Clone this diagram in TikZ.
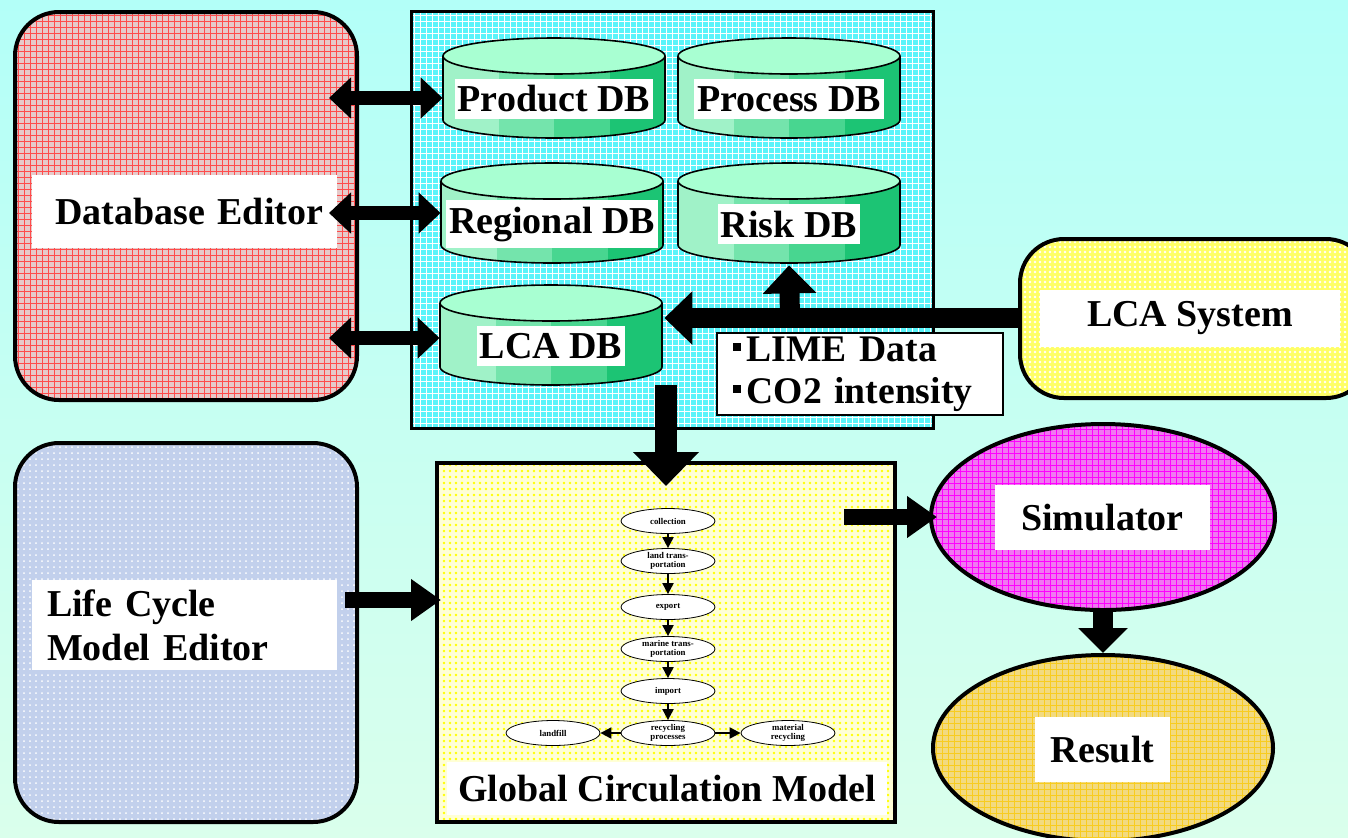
\documentclass[tikz,border=0pt]{standalone}
\usepackage{fontspec}
\setmainfont{Liberation Serif}
\usetikzlibrary{arrows.meta,shapes.geometric,patterns,patterns.meta}

\definecolor{bgtop}{HTML}{B3FFF8}
\definecolor{bgbot}{HTML}{DAFFEC}
\definecolor{edred}{HTML}{E6CACA}
\definecolor{dbcyan}{HTML}{5AF4FA}
\definecolor{lcblue}{HTML}{C2D0EC}
\definecolor{lcyel}{HTML}{FFFF66}
\definecolor{gcmyel}{HTML}{FFFFD6}
\definecolor{simmag}{HTML}{F078F0}
\definecolor{resgold}{HTML}{F2DA80}
\definecolor{resline}{HTML}{F8CC20}
\definecolor{dbA}{HTML}{A0F2C8}
\definecolor{dbB}{HTML}{74E4AC}
\definecolor{dbC}{HTML}{48D690}
\definecolor{dbD}{HTML}{1CC474}
\definecolor{dbtop}{HTML}{A8FFD2}

% one database cylinder: #1 name, #2 left x, #3 top y, #4 label
\newcommand{\dbcyl}[4]{%
  \begin{scope}
    \clip (#2,#3+18) -- (#2,#3+82) arc[start angle=180,end angle=0,x radius=111,y radius=18] -- (#2+222,#3+18) -- cycle;
    \fill[dbA] (#2,#3) rectangle (#2+56,#3+100);
    \fill[dbB] (#2+56,#3) rectangle (#2+111,#3+100);
    \fill[dbC] (#2+111,#3) rectangle (#2+167,#3+100);
    \fill[dbD] (#2+167,#3) rectangle (#2+222,#3+100);
  \end{scope}
  \draw[thick,fill=dbtop] (#2+111,#3+18) ellipse[x radius=111,y radius=18];
  \draw[thick] (#2,#3+18) -- (#2,#3+82) arc[start angle=180,end angle=0,x radius=111,y radius=18] -- (#2+222,#3+18);
  \node[inner sep=0,minimum width=111pt,minimum height=40pt] (#1) at (#2+111,#3+60) {};
  \node[dblabel] (#1-l) at (#2+111,#3+61) {#4};
}
\newcommand{\sqb}{\raisebox{0.28em}{\rule{0.2em}{0.2em}}\,}

\begin{document}
\begin{tikzpicture}[x=0.5pt,y=-0.5pt,
  bigfont/.style={font=\fontsize{19}{22}\selectfont\bfseries},
  lbl/.style={fill=white,inner sep=0,bigfont},
  dblabel/.style={fill=white,inner xsep=1.5pt,inner ysep=3.5pt,font=\fontsize{19}{22}\selectfont\bfseries},
  roundbox/.style={draw,line width=2pt,rounded corners=22pt,inner sep=0},
  dblarrow/.style={line width=7pt,{Triangle[length=11pt,width=20pt]}-{Triangle[length=11pt,width=20pt]}},
  fatarrow/.style={line width=10pt,-{Triangle[length=14pt,width=26pt]}},
  downarrow/.style={line width=11pt,-{Triangle[length=17pt,width=32pt]}},
  midarrow/.style={line width=8pt,-{Triangle[length=15pt,width=20pt]}},
  flownode/.style={ellipse,draw,fill=white,inner sep=0,minimum width=47pt,minimum height=12.5pt,
    align=center,font=\fontsize{4.4}{4.6}\selectfont\bfseries},
  flowarrow/.style={line width=1pt,-{Triangle[length=5.5pt,width=5.5pt]}}]

\useasboundingbox (0,0) rectangle (1348,837);
\clip (0,0) rectangle (1348,837);
\shade[top color=bgtop,bottom color=bgbot] (0,0) rectangle (1348,837);

% editors and boxes
\node[roundbox,preaction={fill=edred},pattern=grid,pattern color=red!70,
  minimum width=171pt,minimum height=194pt] (dbedit) at (186,206) {};
\node[lbl,minimum width=152.5pt,minimum height=36.5pt,text width=129.5pt,inner xsep=11.5pt,align=left]
  (dbedit-l) at (184.5,211.5) {\mbox{Database Editor}};
\node[draw,line width=1.5pt,inner sep=0,preaction={fill=dbcyan},pattern=grid,pattern color=white,
  minimum width=261pt,minimum height=208.5pt] (dbbox) at (672,219.5) {};
\node[roundbox,preaction={fill=lcblue},pattern=dots,pattern color=white,
  minimum width=171pt,minimum height=189.5pt] (lcme) at (186,632.5) {};
\node[lbl,minimum width=152.5pt,minimum height=45pt,text width=137.5pt,inner xsep=7.5pt,align=left]
  (lcme-l) at (184.5,625) {Life Cycle\\Model Editor};
\node[roundbox,preaction={fill=lcyel},pattern={Dots[distance=2.5pt,radius=0.7pt]},pattern color=white,
  minimum width=175pt,minimum height=79.5pt] (lcasys) at (1195,318.5) {};
\node[lbl,minimum width=150pt,minimum height=28.5pt] (lcasys-l) at (1190,318.5) {LCA System};
\node[draw,line width=2pt,inner sep=0,preaction={fill=gcmyel},pattern={Dots[distance=3pt,radius=0.7pt]},
  pattern color=yellow,minimum width=229pt,minimum height=179.5pt] (gcm) at (666,642.5) {};
\node[lbl,minimum width=220pt,minimum height=26.5pt] (gcm-l) at (667,788.5) {Global Circulation Model};
\node[ellipse,draw,line width=2pt,inner sep=0,preaction={fill=simmag},pattern=grid,pattern color=magenta,
  minimum width=172pt,minimum height=93pt] (sim) at (1103,517) {};
\node[lbl,minimum width=107.5pt,minimum height=32.5pt] (sim-l) at (1102.5,517.5) {Simulator};
\node[ellipse,draw,line width=2pt,inner sep=0,preaction={fill=resgold},pattern=grid,pattern color=resline,
  minimum width=170pt,minimum height=93pt] (result) at (1103,748) {};
\node[lbl,minimum width=67.5pt,minimum height=32.5pt] (result-l) at (1102.5,749.5) {Result};

% databases
\dbcyl{prod}{443}{38}{Product DB}
\dbcyl{proc}{678}{38}{Process DB}
\dbcyl{reg}{441}{163}{Regional DB}
\dbcyl{risk}{678}{163}{Risk DB}
\dbcyl{lcadb}{440}{285}{LCA DB}

% arrows
\draw[dblarrow] ([xshift=-15pt]dbedit.east |- prod.west) -- (prod.west);
\draw[dblarrow] ([xshift=-15pt,yshift=5pt]dbedit.east |- reg.west) -- ([yshift=5pt]reg.west);
\draw[dblarrow] ([xshift=-15pt,yshift=3.5pt]dbedit.east |- lcadb.west) -- ([yshift=3.5pt]lcadb.west);

\coordinate (lcaj) at (790,318);
\draw[fatarrow] (lcasys.west |- lcaj) -- ([xshift=1pt]lcadb.east |- lcaj);
\draw[fatarrow] (lcaj) -- ([yshift=-1pt]risk.south);

\node[draw,line width=1.2pt,fill=white,inner sep=0,minimum width=143pt,minimum height=41pt,
  text width=127pt,inner xsep=8pt,align=left,font=\fontsize{18.8}{21}\selectfont\bfseries]
  (lime) at (860,374) {\sqb LIME Data\\\sqb CO2 intensity};

\draw[downarrow] (gcm.north |- lcadb.south) -- ([yshift=-12.5pt]gcm.north);
\coordinate (lcmeout) at (345,600);
\draw[midarrow] (lcmeout) -- ([xshift=3pt]gcm.west |- lcmeout);
\draw[midarrow] ([xshift=-26.5pt]gcm.east |- sim.west) -- ([xshift=4pt]sim.west);
\draw[line width=10pt,-{Triangle[length=12.5pt,width=24pt]}] (sim.south) -- (result.north);

% global circulation flow
\node[flownode] (coll) at (668,521) {collection};
\node[flownode] (land) at (668,561) {land trans-\\portation};
\node[flownode] (expo) at (668,607) {export};
\node[flownode] (mari) at (668,649) {marine trans-\\portation};
\node[flownode] (impo) at (668,691) {import};
\node[flownode] (recy) at (668,733) {recycling\\processes};
\node[flownode] (fill) at (553,733) {landfill};
\node[flownode] (matr) at (788,733) {material\\recycling};
\draw[flowarrow] (coll) -- (land);
\draw[flowarrow] (land) -- (expo);
\draw[flowarrow] (expo) -- (mari);
\draw[flowarrow] (mari) -- (impo);
\draw[flowarrow] (impo) -- (recy);
\draw[flowarrow] (recy) -- (fill);
\draw[flowarrow] (recy) -- (matr);
\end{tikzpicture}
\end{document}
